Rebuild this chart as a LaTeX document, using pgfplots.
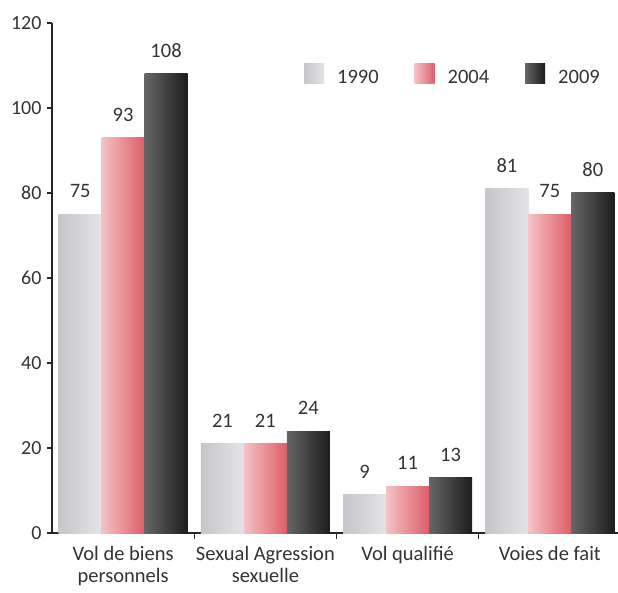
\documentclass[border=0pt]{standalone}
\usepackage{pgfplots}
\pgfplotsset{compat=1.18}
\usepackage{fontspec}
\setmainfont{Carlito}
\definecolor{txt}{HTML}{333333}
\definecolor{lgL}{HTML}{C6C6CA}
\definecolor{lgR}{HTML}{E4E4E8}
\definecolor{pkL}{HTML}{F4C2C6}
\definecolor{pkR}{HTML}{DE5E68}
\definecolor{dkL}{HTML}{666666}
\definecolor{dkR}{HTML}{1C1C1C}
\pgfplotsset{
  s1990/.style={draw=none, left color=lgL, right color=lgR, bar shift=-0.302},
  s2004/.style={draw=none, left color=pkL, right color=pkR, bar shift=0},
  s2009/.style={draw=none, left color=dkL, right color=dkR, bar shift=0.302},
}
\begin{document}
\begin{tikzpicture}[font=\fontsize{20.5}{22}\selectfont]
\useasboundingbox (-52pt,-59pt) rectangle (566pt,533pt);
\begin{axis}[
  scale only axis, width=566pt, height=510pt,
  ybar=0pt,
  xmin=-0.5, xmax=3.479, ymin=0, ymax=120,
  axis lines*=left,
  axis line style={line width=1.3pt, draw=black!85},
  every tick/.style={line width=1.3pt, black!85},
  tick align=outside,
  major tick length=5pt, minor tick length=6pt,
  ytick={0,20,...,120},
  xtick={0,1,2,3},
  xticklabels={{Vol de biens\\personnels},{Sexual Agression\\sexuelle},{Vol qualifié},{Voies de fait}},
  minor xtick={0.5,1.5,2.5},
  major x tick style={draw=none},
  xticklabel style={align=center, text=txt, font=\fontsize{20.5}{22}\selectfont, yshift=-5pt},
  yticklabel style={text=txt, font=\fontsize{20}{22}\selectfont, xshift=-2pt},
  /pgf/number format/assume math mode=true,
  bar width=0.302,
  nodes near coords,
  every node near coord/.append style={text=txt, font=\fontsize{20.5}{22}\selectfont, yshift=13pt},
  legend style={at={(0.977,0.925)}, anchor=north east, draw=none, fill=none,
    legend columns=3, text=txt, font=\fontsize{20.5}{22}\selectfont,
    /tikz/every odd column/.append style={column sep=11pt},
    /tikz/every even column/.append style={column sep=34pt}},
  legend image code/.code={\path[#1, draw=none] (0pt,-6pt) rectangle (20pt,14pt);},
]
\addplot[s1990] coordinates {(0,75)};
\addplot[s2004] coordinates {(0,93)};
\addplot[s2009] coordinates {(0,108)};
\addplot[s1990, forget plot] coordinates {(1,21)};
\addplot[s2004, forget plot] coordinates {(1,21)};
\addplot[s2009, forget plot] coordinates {(1,24)};
\addplot[s1990, forget plot] coordinates {(2,9)};
\addplot[s2004, forget plot] coordinates {(2,11)};
\addplot[s2009, forget plot] coordinates {(2,13)};
\addplot[s1990, forget plot] coordinates {(3,81)};
\addplot[s2004, forget plot] coordinates {(3,75)};
\addplot[s2009, forget plot] coordinates {(3,80)};
\legend{1990,2004,2009}
\end{axis}
\end{tikzpicture}
\end{document}
